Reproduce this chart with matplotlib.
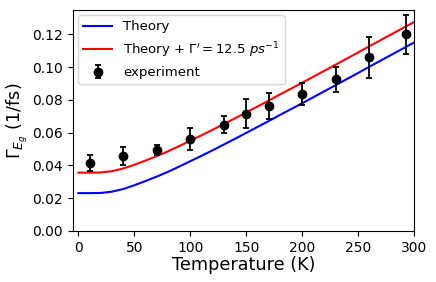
import matplotlib
matplotlib.use("Agg")
import matplotlib.pyplot as plt
import numpy as np

# Theory curve
T_theory = [0, 10, 20, 30, 40, 50, 60, 70, 80, 90, 100, 110, 120, 130, 140, 150,
            160, 170, 180, 190, 200, 210, 220, 230, 240, 250, 260, 270, 280, 290, 300]
gamma_theory = [0.0231, 0.0231, 0.0232, 0.0240, 0.0256, 0.0279, 0.0305, 0.0332,
                0.0361, 0.0393, 0.0426, 0.0459, 0.0493, 0.0528, 0.0563, 0.0599,
                0.0635, 0.0671, 0.0708, 0.0744, 0.0780, 0.0817, 0.0854, 0.0891,
                0.0928, 0.0965, 0.1003, 0.1040, 0.1077, 0.1114, 0.1151]
gamma_prime = 0.0125  # 12.5 ps^-1 in 1/fs

# Experiment
T_exp = [10, 40, 70, 100, 130, 150, 170, 200, 230, 260, 293]
gamma_exp = [0.0414, 0.0459, 0.0494, 0.0561, 0.0648, 0.0716, 0.0763, 0.0837,
             0.0925, 0.1060, 0.1200]
gamma_err = [0.0050, 0.0055, 0.0033, 0.0069, 0.0052, 0.0087, 0.0080, 0.0066,
             0.0078, 0.0124, 0.0120]

fig = plt.figure(figsize=(4.36, 2.82), dpi=100)
ax = fig.add_axes([0.167, 0.181, 0.783, 0.784])

ax.plot(T_theory, gamma_theory, color='blue', lw=1.5, label='Theory')
ax.plot(T_theory, np.array(gamma_theory) + gamma_prime, color='red', lw=1.5,
        label=r"Theory + $\Gamma' = 12.5\ ps^{-1}$")
ax.errorbar(T_exp, gamma_exp, yerr=gamma_err, fmt='o', color='black',
            markersize=6, capsize=2.5, elinewidth=1.3, capthick=1.3,
            label='experiment')

ax.set_xlim(-5, 300)
ax.set_ylim(0, 0.135)
ax.set_xticks([0, 50, 100, 150, 200, 250, 300])
ax.set_yticks([0.00, 0.02, 0.04, 0.06, 0.08, 0.10, 0.12])
ax.set_yticklabels(['0.00', '0.02', '0.04', '0.06', '0.08', '0.10', '0.12'])
ax.tick_params(labelsize=10)
ax.set_xlabel('Temperature (K)', fontsize=12.7, labelpad=1)
ax.set_ylabel(r'$\Gamma_{E_g}$ (1/fs)', fontsize=12.7, labelpad=2)
ax.legend(loc='upper left', fontsize=9.5, handlelength=2.2, borderaxespad=0.4)

fig.savefig('out.png', dpi=100)
